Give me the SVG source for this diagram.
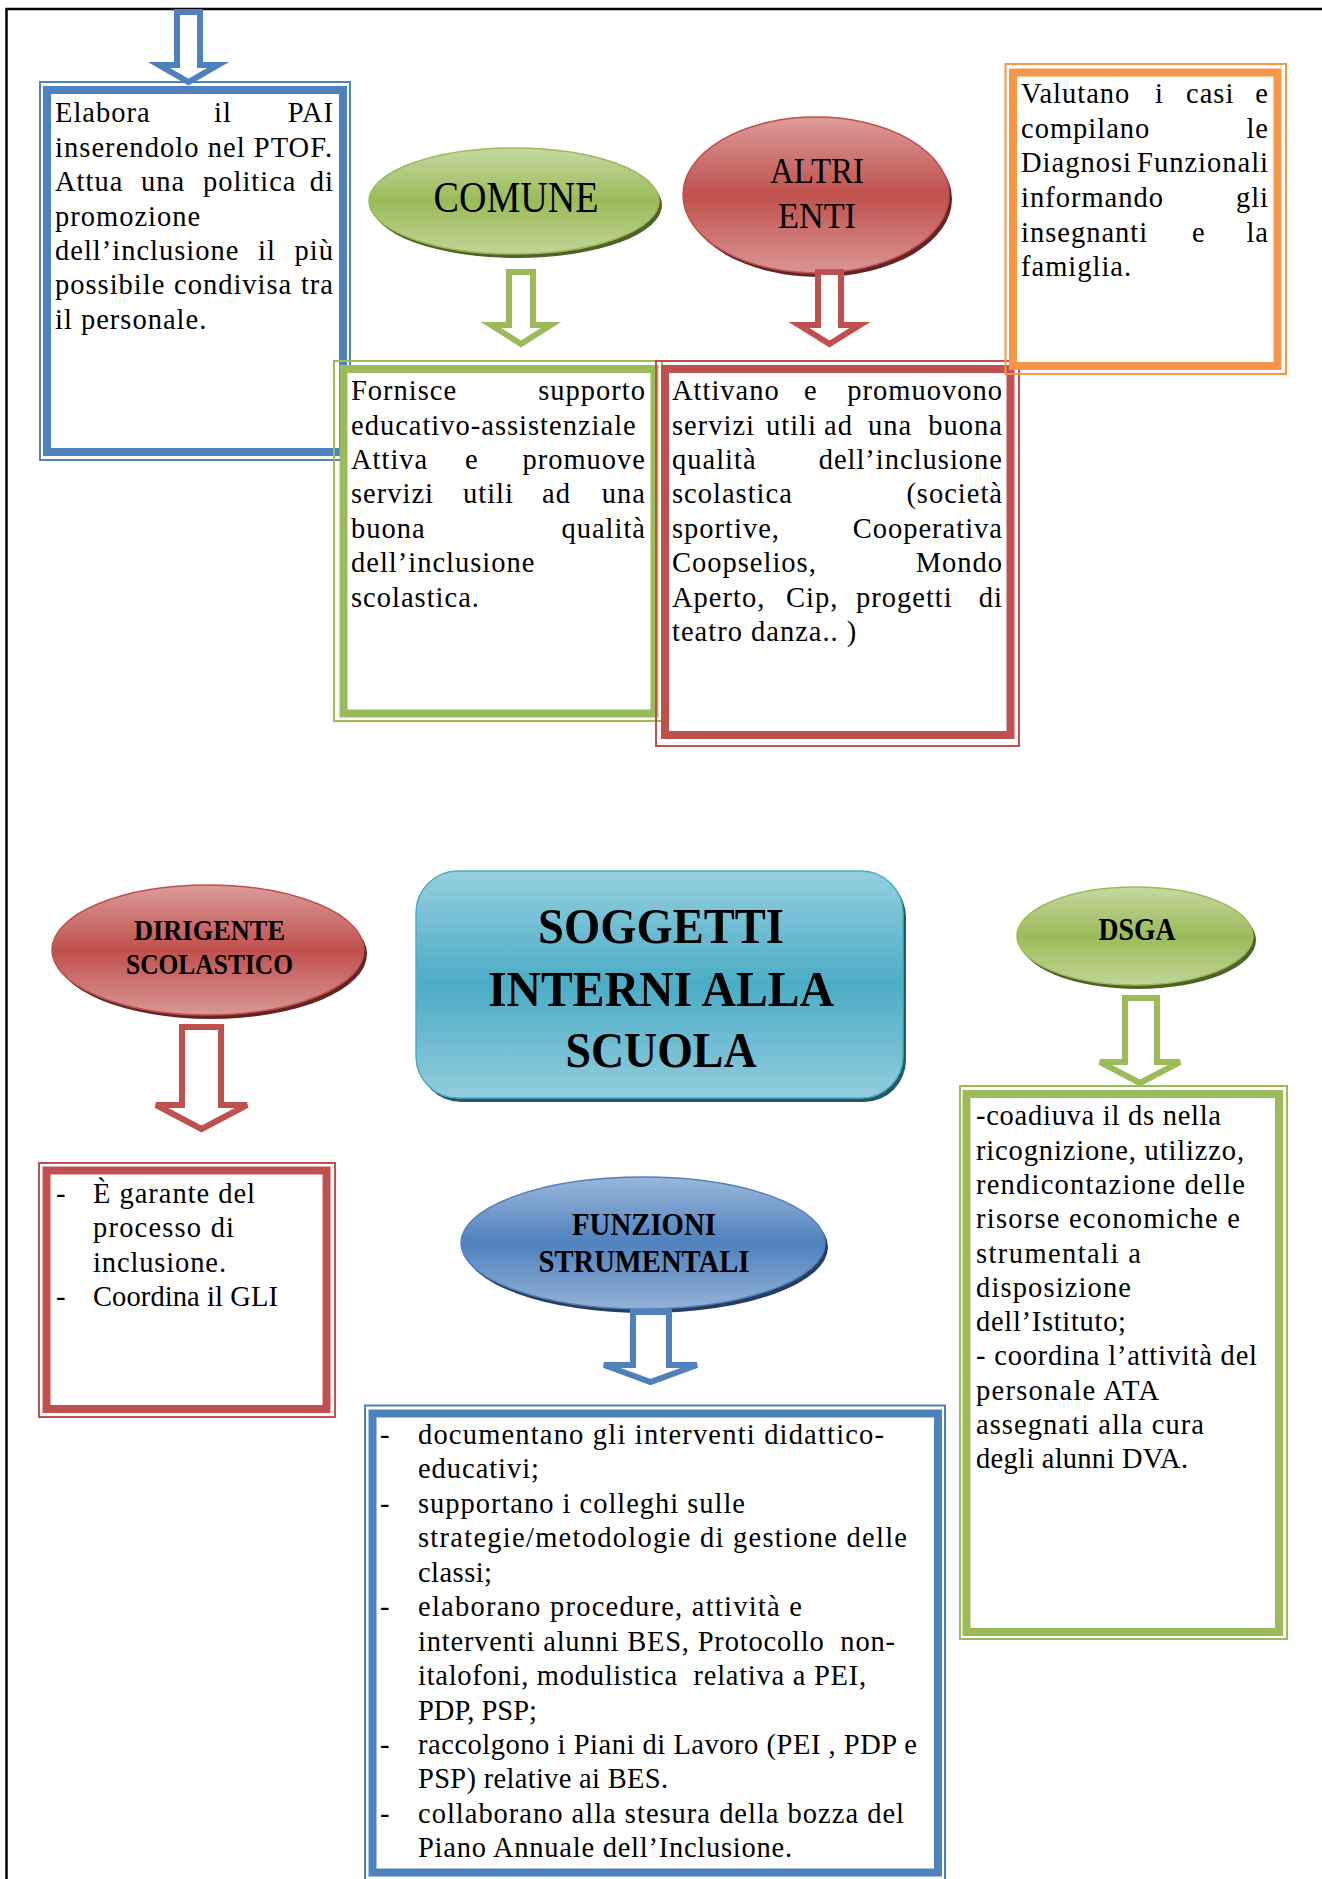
<svg xmlns="http://www.w3.org/2000/svg" width="1322" height="1879" viewBox="0 0 1322 1879">
<defs>
<linearGradient id="gGreen" x1="0" y1="0" x2="0" y2="1"><stop offset="0" stop-color="#c5d8a0"/><stop offset="0.5" stop-color="#9bbb59"/><stop offset="1" stop-color="#c0d596"/></linearGradient>
<linearGradient id="gRed" x1="0" y1="0" x2="0" y2="1"><stop offset="0" stop-color="#dc9c9a"/><stop offset="0.5" stop-color="#c0504d"/><stop offset="1" stop-color="#d99694"/></linearGradient>
<linearGradient id="gBlue" x1="0" y1="0" x2="0" y2="1"><stop offset="0" stop-color="#9ab7da"/><stop offset="0.5" stop-color="#4f81bd"/><stop offset="1" stop-color="#93b1d6"/></linearGradient>
<linearGradient id="gTeal" x1="0" y1="0" x2="0" y2="1"><stop offset="0" stop-color="#95cfde"/><stop offset="0.5" stop-color="#4bacc6"/><stop offset="1" stop-color="#93cddd"/></linearGradient>
<style>
.t{font-family:"Liberation Serif","Times New Roman",serif;font-size:28.5px;letter-spacing:1px;fill:#000}
.e{text-anchor:end}
.pre{white-space:pre}
.lbl{font-family:"Liberation Serif","Times New Roman",serif;fill:#000;text-anchor:middle}
.b{font-weight:bold}
.arrow{fill:#fff;stroke-width:6;stroke-linejoin:miter}
.thin{fill:none;stroke-width:2}
.thick{fill:#fff;stroke-width:8}
</style>
</defs>
<rect x="0" y="0" width="1322" height="1879" fill="#fff"/>
<g id="page-border" stroke="#000" stroke-width="2.5" fill="none">
<line x1="6.5" y1="9" x2="6.5" y2="1879"/>
<line x1="5.3" y1="9" x2="1322" y2="9"/>
</g>

<!-- Top blue box -->
<g id="box-pai">
<rect class="thin" x="40" y="82" width="310" height="378" stroke="#4f81bd"/>
<rect class="thick" x="47" y="90" width="296" height="362" stroke="#4f81bd"/>
<text class="t" x="55" y="122">Elabora</text><text class="t" x="214" y="122">il</text><text class="t e" x="334" y="122">PAI</text>
<text class="t" x="55" y="157" textLength="278" lengthAdjust="spacing">inserendolo nel PTOF.</text>
<text class="t" x="55" y="191">Attua</text><text class="t" x="141" y="191">una</text><text class="t" x="203" y="191">politica</text><text class="t e" x="334" y="191">di</text>
<text class="t" x="55" y="226">promozione</text>
<text class="t" x="55" y="260">dell’inclusione</text><text class="t" x="258" y="260">il</text><text class="t e" x="334" y="260">più</text>
<text class="t" x="55" y="294">possibile</text><text class="t" x="174" y="294">condivisa</text><text class="t e" x="334" y="294">tra</text>
<text class="t" x="55" y="329">il personale.</text>
</g>

<!-- COMUNE -->
<g id="node-comune">
<ellipse cx="517" cy="205" rx="145" ry="53" fill="#4f6228"/>
<ellipse cx="514" cy="201" rx="145" ry="53" fill="url(#gGreen)" stroke="#9bbb59" stroke-width="1.5"/>
<text class="lbl" x="516" y="212" font-size="44" textLength="165" lengthAdjust="spacingAndGlyphs">COMUNE</text>
</g>

<!-- ALTRI ENTI -->
<g id="node-altri-enti">
<ellipse cx="819" cy="199" rx="133" ry="78" fill="#632523"/>
<ellipse cx="816" cy="195" rx="133" ry="78" fill="url(#gRed)" stroke="#c0504d" stroke-width="1.5"/>
<text class="lbl" x="817" y="183" font-size="36" textLength="94" lengthAdjust="spacingAndGlyphs">ALTRI</text>
<text class="lbl" x="817" y="228" font-size="36" textLength="78" lengthAdjust="spacingAndGlyphs">ENTI</text>
</g>

<!-- Green box -->
<g id="box-comune">
<rect class="thin" x="334" y="361" width="328" height="360" stroke="#9bbb59"/>
<rect class="thick" x="343.5" y="369" width="311" height="344.5" stroke="#9bbb59"/>
<text class="t" x="351" y="400">Fornisce</text><text class="t e" x="646" y="400">supporto</text>
<text class="t" x="351" y="435">educativo-assistenziale</text>
<text class="t" x="351" y="469">Attiva</text><text class="t" x="465" y="469">e</text><text class="t e" x="646" y="469">promuove</text>
<text class="t" x="351" y="503">servizi</text><text class="t" x="463" y="503">utili</text><text class="t" x="542" y="503">ad</text><text class="t e" x="646" y="503">una</text>
<text class="t" x="351" y="538">buona</text><text class="t e" x="646" y="538">qualità</text>
<text class="t" x="351" y="572">dell’inclusione</text>
<text class="t" x="351" y="607">scolastica.</text>
</g>

<!-- Red box -->
<g id="box-altri-enti">
<rect class="thin" x="656" y="361" width="363" height="385" stroke="#c0504d"/>
<rect class="thick" x="665" y="369" width="345.5" height="366" stroke="#c0504d"/>
<text class="t" x="672" y="400">Attivano</text><text class="t" x="804" y="400">e</text><text class="t e" x="1003" y="400">promuovono</text>
<text class="t" x="672" y="435">servizi</text><text class="t" x="766" y="435">utili</text><text class="t" x="824" y="435">ad</text><text class="t" x="868" y="435">una</text><text class="t e" x="1003" y="435">buona</text>
<text class="t" x="672" y="469">qualità</text><text class="t e" x="1003" y="469">dell’inclusione</text>
<text class="t" x="672" y="503">scolastica</text><text class="t e" x="1003" y="503">(società</text>
<text class="t" x="672" y="538">sportive,</text><text class="t e" x="1003" y="538">Cooperativa</text>
<text class="t" x="672" y="572">Coopselios,</text><text class="t e" x="1003" y="572">Mondo</text>
<text class="t" x="672" y="607">Aperto,</text><text class="t" x="786" y="607">Cip,</text><text class="t" x="856" y="607">progetti</text><text class="t e" x="1003" y="607">di</text>
<text class="t" x="672" y="641">teatro danza.. )</text>
</g>

<!-- Orange box -->
<g id="box-valutano">
<rect class="thin" x="1005.5" y="64" width="280.5" height="310" stroke="#f79646"/>
<rect class="thick" x="1013" y="72.5" width="264.5" height="293.5" stroke="#f79646"/>
<text class="t" x="1021" y="103">Valutano</text><text class="t" x="1155" y="103">i</text><text class="t" x="1186" y="103">casi</text><text class="t e" x="1269" y="103">e</text>
<text class="t" x="1021" y="138">compilano</text><text class="t e" x="1269" y="138">le</text>
<text class="t" x="1021" y="172">Diagnosi</text><text class="t e" x="1269" y="172">Funzionali</text>
<text class="t" x="1021" y="207">informando</text><text class="t e" x="1269" y="207">gli</text>
<text class="t" x="1021" y="242">insegnanti</text><text class="t" x="1192" y="242">e</text><text class="t e" x="1269" y="242">la</text>
<text class="t" x="1021" y="276">famiglia.</text>
</g>

<!-- SOGGETTI -->
<g id="node-soggetti">
<rect x="419" y="875" width="487" height="227" rx="42" fill="#215968"/>
<rect x="416" y="871" width="487" height="227" rx="42" fill="url(#gTeal)" stroke="#4bacc6" stroke-width="1.5"/>
<text class="lbl b" x="661" y="943" font-size="50" textLength="246" lengthAdjust="spacingAndGlyphs">SOGGETTI</text>
<text class="lbl b" x="661" y="1006" font-size="50" textLength="346" lengthAdjust="spacingAndGlyphs">INTERNI ALLA</text>
<text class="lbl b" x="661" y="1067" font-size="50" textLength="191" lengthAdjust="spacingAndGlyphs">SCUOLA</text>
</g>

<!-- DIRIGENTE -->
<g id="node-dirigente">
<ellipse cx="211" cy="954" rx="156" ry="65" fill="#632523"/>
<ellipse cx="208" cy="950" rx="156" ry="65" fill="url(#gRed)" stroke="#c0504d" stroke-width="1.5"/>
<text class="lbl b" x="209.5" y="940" font-size="29" textLength="151" lengthAdjust="spacingAndGlyphs">DIRIGENTE</text>
<text class="lbl b" x="209.5" y="974" font-size="29" textLength="167" lengthAdjust="spacingAndGlyphs">SCOLASTICO</text>
</g>

<!-- Dirigente box -->
<g id="box-dirigente">
<rect class="thin" x="39" y="1163" width="296" height="254" stroke="#c0504d"/>
<rect class="thick" x="46.5" y="1170.5" width="280" height="238.5" stroke="#c0504d" stroke-width="9"/>
<text class="t" x="56" y="1203">-</text><text class="t" x="93" y="1203" textLength="163" lengthAdjust="spacing">È garante del</text>
<text class="t" x="93" y="1237" textLength="142" lengthAdjust="spacing">processo di</text>
<text class="t" x="93" y="1272" textLength="134" lengthAdjust="spacing">inclusione.</text>
<text class="t" x="56" y="1306">-</text><text class="t" x="93" y="1306" textLength="186" lengthAdjust="spacing">Coordina il GLI</text>
</g>

<!-- FUNZIONI -->
<g id="node-funzioni">
<ellipse cx="646" cy="1247" rx="182" ry="66" fill="#243f60"/>
<ellipse cx="643" cy="1243" rx="182" ry="66" fill="url(#gBlue)" stroke="#4f81bd" stroke-width="1.5"/>
<text class="lbl b" x="644" y="1235" font-size="31" textLength="144" lengthAdjust="spacingAndGlyphs">FUNZIONI</text>
<text class="lbl b" x="644" y="1272" font-size="31" textLength="211" lengthAdjust="spacingAndGlyphs">STRUMENTALI</text>
</g>

<!-- Funzioni box -->
<g id="box-funzioni">
<rect class="thin" x="365" y="1405.5" width="580" height="490" stroke="#4f81bd"/>
<rect class="thick" x="372.5" y="1413.5" width="565.5" height="459" stroke="#4f81bd"/>
<text class="t" x="380" y="1444">-</text><text class="t" x="418" y="1444" textLength="467" lengthAdjust="spacing">documentano gli interventi didattico-</text>
<text class="t" x="418" y="1478" textLength="122" lengthAdjust="spacing">educativi;</text>
<text class="t" x="380" y="1513">-</text><text class="t" x="418" y="1513" textLength="328" lengthAdjust="spacing">supportano i colleghi sulle</text>
<text class="t" x="418" y="1547" textLength="490" lengthAdjust="spacing">strategie/metodologie di gestione delle</text>
<text class="t" x="418" y="1582" textLength="75" lengthAdjust="spacing">classi;</text>
<text class="t" x="380" y="1616">-</text><text class="t" x="418" y="1616" textLength="385" lengthAdjust="spacing">elaborano procedure, attività e</text>
<text class="t pre" x="418" y="1651" textLength="478" lengthAdjust="spacing">interventi alunni BES, Protocollo  non-</text>
<text class="t pre" x="418" y="1685" textLength="449" lengthAdjust="spacing">italofoni, modulistica  relativa a PEI,</text>
<text class="t" x="418" y="1720" textLength="120" lengthAdjust="spacing">PDP, PSP;</text>
<text class="t" x="380" y="1754">-</text><text class="t" x="418" y="1754" textLength="500" lengthAdjust="spacing">raccolgono i Piani di Lavoro (PEI , PDP e</text>
<text class="t" x="418" y="1788" textLength="251" lengthAdjust="spacing">PSP) relative ai BES.</text>
<text class="t" x="380" y="1823">-</text><text class="t" x="418" y="1823" textLength="487" lengthAdjust="spacing">collaborano alla stesura della bozza del</text>
<text class="t" x="418" y="1857" textLength="375" lengthAdjust="spacing">Piano Annuale dell’Inclusione.</text>
</g>

<!-- DSGA -->
<g id="node-dsga">
<ellipse cx="1138" cy="940" rx="118" ry="49" fill="#4f6228"/>
<ellipse cx="1135" cy="936" rx="118" ry="49" fill="url(#gGreen)" stroke="#9bbb59" stroke-width="1.5"/>
<text class="lbl b" x="1137" y="940" font-size="31" textLength="77" lengthAdjust="spacingAndGlyphs">DSGA</text>
</g>

<!-- DSGA box -->
<g id="box-dsga">
<rect class="thin" x="960" y="1086" width="327" height="553" stroke="#9bbb59"/>
<rect class="thick" x="966.5" y="1094" width="312.5" height="538" stroke="#9bbb59"/>
<text class="t" x="976" y="1125" textLength="246" lengthAdjust="spacing">-coadiuva il ds nella</text>
<text class="t" x="976" y="1160" textLength="269" lengthAdjust="spacing">ricognizione, utilizzo,</text>
<text class="t" x="976" y="1194" textLength="270" lengthAdjust="spacing">rendicontazione delle</text>
<text class="t" x="976" y="1228" textLength="265" lengthAdjust="spacing">risorse economiche e</text>
<text class="t" x="976" y="1263" textLength="166" lengthAdjust="spacing">strumentali a</text>
<text class="t" x="976" y="1297" textLength="156" lengthAdjust="spacing">disposizione</text>
<text class="t" x="976" y="1331" textLength="151" lengthAdjust="spacing">dell’Istituto;</text>
<text class="t" x="976" y="1365" textLength="282" lengthAdjust="spacing">- coordina l’attività del</text>
<text class="t" x="976" y="1400" textLength="184" lengthAdjust="spacing">personale ATA</text>
<text class="t" x="976" y="1434" textLength="229" lengthAdjust="spacing">assegnati alla cura</text>
<text class="t" x="976" y="1468" textLength="213" lengthAdjust="spacing">degli alunni DVA.</text>
</g>

<!-- Connectors -->
<g id="connectors">
<polygon class="arrow" stroke="#4f81bd" points="177,12 200,12 200,65 218,65 188.5,82 159,65 177,65"/>
<polygon class="arrow" stroke="#9bbb59" points="509,272 533,272 533,325 551,325 521,344 491,325 509,325"/>
<polygon class="arrow" stroke="#c0504d" points="818,272 841,272 841,325 860,325 829.5,344 799,325 818,325"/>
<polygon class="arrow" stroke="#c0504d" points="182,1027 221,1027 221,1105 247,1105 201.5,1129 156,1105 182,1105"/>
<polygon class="arrow" stroke="#4f81bd" points="633,1312 669,1312 669,1365 697,1365 650.5,1382 604,1365 633,1365"/>
<polygon class="arrow" stroke="#9bbb59" points="1125,998 1157,998 1157,1062 1180,1062 1140,1083 1100,1062 1125,1062"/>
</g>
</svg>
